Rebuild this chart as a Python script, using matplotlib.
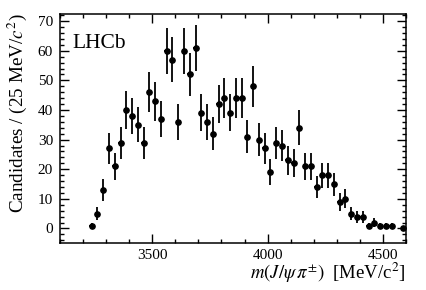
import matplotlib.pyplot as plt
import numpy as np
from matplotlib.ticker import MultipleLocator

# 25 MeV bins, first bin starts at 3225 MeV
bin_width = 25
bin_centers = np.arange(3237.5, 4600, bin_width)
counts = [1, 5, 13, 27, 21, 29, 40, 38, 35, 29,
          46, 43, 37, 60, 57, 36, 60, 52, 61, 39,
          36, 32, 42, 44, 39, 44, 44, 31, 48, 30,
          27, 19, 29, 28, 23, 22, 34, 21, 21, 14,
          18, 18, 15, 9, 10, 5, 4, 4, 1, 2,
          1, 1, 1, np.nan, 0]

xticks = [3500, 4000, 4500]
yticks = [0, 10, 20, 30, 40, 50, 60, 70]

plt.rcParams["font.family"] = ["Liberation Serif", "DejaVu Serif"]
plt.rcParams["mathtext.fontset"] = "stix"


def main() -> None:
    fig = plt.figure(figsize=(4.27, 2.90), dpi=100)
    ax = fig.add_axes([60 / 427, 46.7 / 290, 346 / 427, 229.3 / 290])

    y = np.array(counts, dtype=float)
    ok = ~np.isnan(y)
    ax.errorbar(
        bin_centers[ok],
        y[ok],
        yerr=np.sqrt(y[ok]),
        xerr=10,
        fmt="o",
        color="black",
        ms=3.8,
        elinewidth=1.3,
        capsize=0,
    )

    ax.set_xlim(3100, 4600)
    ax.set_ylim(-5, 72.4)
    ax.set_xticks(xticks)
    ax.set_yticks(yticks)
    ax.xaxis.set_minor_locator(MultipleLocator(100))
    ax.yaxis.set_minor_locator(MultipleLocator(2))
    ax.tick_params(which="both", direction="in", top=True, right=True,
                   labelsize=11, width=1.0)
    ax.tick_params(which="major", length=6.5)
    ax.tick_params(which="minor", length=3.2)
    ax.tick_params(axis="x", pad=4)
    ax.tick_params(axis="y", pad=5)
    for s in ax.spines.values():
        s.set_linewidth(1.1)

    ax.text(0.035, 0.87, "LHCb", transform=ax.transAxes, fontsize=15.5,
            ha="left", va="center")

    fig.text(406 / 427, 1 - 279 / 290,
             r"$m(J/\psi\,\pi^{\pm})$  [MeV/c$^{2}$]",
             ha="right", va="baseline", fontsize=13.5)
    fig.text(17 / 427, 1 - 113 / 290,
             r"Candidates / (25 MeV/$c^{2}$)",
             ha="center", va="center", rotation=90, fontsize=13.8)

    fig.savefig("out.png", dpi=100)


if __name__ == "__main__":
    main()
